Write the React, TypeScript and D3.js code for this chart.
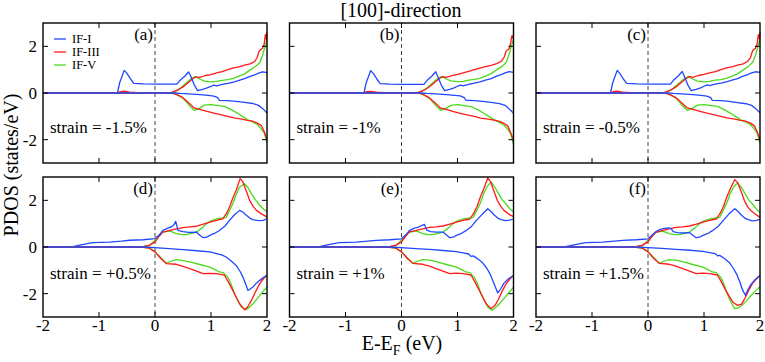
import React from 'react';
import * as d3 from 'd3';

// PDOS curves as [E - E_F (eV), states/eV]
const aBlueUp = [[-2,0],[-0.67,0],[-0.63,0.45],[-0.55,0.97],[-0.5,0.84],[-0.44,0.62],[-0.38,0.41],[-0.2,0.39],[0,0.38],[0.2,0.38],[0.39,0.38],[0.45,0.55],[0.53,0.72],[0.6,0.9],[0.64,0.72],[0.7,0.35],[0.76,0.1],[0.85,0.16],[0.93,0.22],[1.0,0.28],[1.05,0.34],[1.1,0.31],[1.2,0.37],[1.3,0.41],[1.4,0.47],[1.5,0.54],[1.6,0.62],[1.7,0.71],[1.78,0.78],[1.85,0.85],[1.92,0.91],[2.0,0.87]];
const aRedUp = [[-2,0],[-0.68,0],[-0.62,0.06],[-0.55,0.08],[-0.45,0.04],[-0.3,0.02],[0.2,0.01],[0.3,0.03],[0.4,0.12],[0.5,0.26],[0.6,0.46],[0.68,0.62],[0.73,0.69],[0.8,0.67],[0.9,0.75],[1.0,0.79],[1.1,0.86],[1.2,0.92],[1.3,1.0],[1.4,1.08],[1.5,1.12],[1.6,1.19],[1.7,1.25],[1.78,1.35],[1.82,1.5],[1.86,1.8],[1.92,1.92],[1.95,2.1],[1.97,2.5],[1.99,2.3],[2.0,2.6]];
const aGreenUp = [[-2,0],[0.25,0],[0.35,0.05],[0.45,0.2],[0.55,0.42],[0.65,0.62],[0.72,0.7],[0.8,0.6],[0.88,0.51],[1.0,0.48],[1.1,0.5],[1.2,0.54],[1.3,0.57],[1.4,0.63],[1.5,0.72],[1.6,0.82],[1.7,0.99],[1.8,1.15],[1.87,1.3],[1.92,1.6],[1.96,1.95],[2.0,2.3]];
const aBlueDown = [[-2,0],[0.35,0],[0.45,-0.02],[0.6,-0.04],[0.8,-0.07],[0.95,-0.1],[1.05,-0.13],[1.12,-0.2],[1.15,-0.32],[1.3,-0.33],[1.45,-0.36],[1.6,-0.4],[1.75,-0.45],[1.85,-0.53],[1.92,-0.66],[2.0,-0.86]];
const aRedDown = [[-2,0],[0.3,0],[0.4,-0.08],[0.5,-0.2],[0.6,-0.42],[0.7,-0.64],[0.8,-0.7],[0.93,-0.79],[1.05,-0.86],[1.17,-0.93],[1.3,-1.0],[1.41,-1.07],[1.55,-1.12],[1.65,-1.17],[1.75,-1.21],[1.83,-1.29],[1.9,-1.4],[1.95,-1.65],[2.0,-2.0]];
const aGreenDown = [[-2,0],[0.3,0],[0.4,-0.08],[0.5,-0.22],[0.6,-0.5],[0.7,-0.74],[0.78,-0.68],[0.88,-0.52],[1.0,-0.5],[1.1,-0.53],[1.24,-0.57],[1.35,-0.7],[1.47,-0.86],[1.56,-1.0],[1.65,-1.14],[1.75,-1.25],[1.83,-1.36],[1.9,-1.55],[1.95,-1.71],[2.0,-2.14]];

const bBlueUp = [[-2,0],[-0.67,0],[-0.63,0.44],[-0.55,0.96],[-0.5,0.83],[-0.44,0.6],[-0.38,0.4],[-0.2,0.38],[0,0.37],[0.2,0.37],[0.4,0.37],[0.46,0.55],[0.54,0.72],[0.61,0.91],[0.65,0.7],[0.71,0.34],[0.77,0.1],[0.86,0.16],[0.94,0.22],[1.0,0.29],[1.06,0.34],[1.1,0.31],[1.2,0.37],[1.3,0.42],[1.4,0.48],[1.5,0.55],[1.6,0.62],[1.7,0.72],[1.78,0.79],[1.85,0.86],[1.92,0.92],[2.0,0.88]];
const bRedUp = [[-2,0],[-0.68,0],[-0.62,0.06],[-0.55,0.07],[-0.45,0.04],[-0.3,0.02],[0.2,0.01],[0.3,0.03],[0.4,0.12],[0.5,0.27],[0.6,0.47],[0.68,0.62],[0.74,0.7],[0.8,0.67],[0.9,0.74],[1.0,0.8],[1.1,0.86],[1.2,0.93],[1.3,1.0],[1.4,1.07],[1.5,1.13],[1.6,1.18],[1.7,1.26],[1.78,1.36],[1.83,1.52],[1.87,1.8],[1.92,1.9],[1.95,2.15],[1.97,2.45],[1.99,2.35],[2.0,2.5]];
const bGreenUp = [[-2,0],[0.25,0],[0.35,0.05],[0.45,0.2],[0.55,0.42],[0.65,0.63],[0.72,0.71],[0.8,0.6],[0.88,0.52],[1.0,0.49],[1.1,0.5],[1.2,0.55],[1.3,0.58],[1.4,0.63],[1.5,0.72],[1.6,0.83],[1.7,1.0],[1.8,1.14],[1.87,1.32],[1.92,1.65],[1.96,2.0],[2.0,2.3]];
const bBlueDown = [[-2,0],[0.35,0],[0.45,-0.02],[0.6,-0.04],[0.8,-0.07],[0.95,-0.1],[1.05,-0.12],[1.12,-0.2],[1.15,-0.31],[1.3,-0.33],[1.45,-0.36],[1.6,-0.4],[1.75,-0.46],[1.85,-0.53],[1.92,-0.67],[2.0,-0.87]];
const bRedDown = [[-2,0],[0.3,0],[0.4,-0.08],[0.5,-0.21],[0.6,-0.43],[0.7,-0.65],[0.8,-0.7],[0.93,-0.8],[1.05,-0.87],[1.17,-0.94],[1.3,-1.0],[1.41,-1.08],[1.55,-1.12],[1.65,-1.16],[1.75,-1.22],[1.83,-1.3],[1.9,-1.42],[1.95,-1.7],[2.0,-2.0]];
const bGreenDown = [[-2,0],[0.3,0],[0.4,-0.08],[0.5,-0.23],[0.6,-0.51],[0.7,-0.74],[0.78,-0.68],[0.88,-0.53],[1.0,-0.5],[1.1,-0.53],[1.24,-0.58],[1.35,-0.7],[1.47,-0.87],[1.56,-1.0],[1.65,-1.14],[1.75,-1.26],[1.83,-1.37],[1.9,-1.56],[1.95,-1.75],[2.0,-2.2]];

const cBlueUp = [[-2,0],[-0.67,0],[-0.63,0.44],[-0.55,0.97],[-0.5,0.83],[-0.44,0.6],[-0.38,0.41],[-0.2,0.39],[0,0.38],[0.2,0.38],[0.4,0.38],[0.46,0.56],[0.54,0.73],[0.61,0.92],[0.65,0.72],[0.71,0.35],[0.77,0.1],[0.86,0.16],[0.94,0.22],[1.0,0.29],[1.06,0.35],[1.1,0.32],[1.2,0.38],[1.3,0.42],[1.4,0.48],[1.5,0.55],[1.6,0.62],[1.7,0.72],[1.78,0.79],[1.85,0.86],[1.92,0.91],[2.0,0.88]];
const cRedUp = [[-2,0],[-0.68,0],[-0.62,0.06],[-0.55,0.08],[-0.45,0.04],[-0.3,0.02],[0.2,0.01],[0.3,0.03],[0.4,0.12],[0.5,0.26],[0.6,0.46],[0.68,0.62],[0.74,0.7],[0.8,0.67],[0.9,0.75],[1.0,0.8],[1.1,0.86],[1.2,0.92],[1.3,1.0],[1.4,1.08],[1.5,1.12],[1.6,1.19],[1.7,1.25],[1.78,1.36],[1.83,1.52],[1.87,1.82],[1.92,1.92],[1.95,2.12],[1.97,2.5],[1.99,2.32],[2.0,2.6]];
const cGreenUp = [[-2,0],[0.25,0],[0.35,0.05],[0.45,0.2],[0.55,0.42],[0.65,0.62],[0.72,0.7],[0.8,0.6],[0.88,0.51],[1.0,0.48],[1.1,0.5],[1.2,0.55],[1.3,0.57],[1.4,0.63],[1.5,0.72],[1.6,0.82],[1.7,0.99],[1.8,1.15],[1.87,1.32],[1.92,1.62],[1.96,1.98],[2.0,2.3]];
const cBlueDown = [[-2,0],[0.35,0],[0.45,-0.02],[0.6,-0.04],[0.8,-0.07],[0.95,-0.1],[1.05,-0.13],[1.12,-0.2],[1.15,-0.32],[1.3,-0.33],[1.45,-0.36],[1.6,-0.41],[1.75,-0.46],[1.85,-0.53],[1.92,-0.66],[2.0,-0.85]];
const cRedDown = [[-2,0],[0.3,0],[0.4,-0.08],[0.5,-0.2],[0.6,-0.42],[0.7,-0.64],[0.8,-0.7],[0.93,-0.79],[1.05,-0.86],[1.17,-0.93],[1.3,-1.0],[1.41,-1.07],[1.55,-1.12],[1.65,-1.17],[1.75,-1.21],[1.83,-1.29],[1.9,-1.41],[1.95,-1.66],[2.0,-2.0]];
const cGreenDown = [[-2,0],[0.3,0],[0.4,-0.08],[0.5,-0.22],[0.6,-0.5],[0.7,-0.74],[0.78,-0.68],[0.88,-0.52],[1.0,-0.5],[1.1,-0.53],[1.24,-0.57],[1.35,-0.7],[1.47,-0.86],[1.56,-1.0],[1.65,-1.14],[1.75,-1.25],[1.83,-1.36],[1.9,-1.55],[1.95,-1.72],[2.0,-2.16]];

const dBlueUp = [[-2,0],[-1.49,0],[-1.3,0.1],[-1.11,0.19],[-0.95,0.2],[-0.81,0.21],[-0.6,0.25],[-0.45,0.29],[-0.21,0.31],[0,0.36],[0.07,0.5],[0.14,0.71],[0.22,0.8],[0.29,0.86],[0.34,0.95],[0.37,1.1],[0.41,0.71],[0.5,0.66],[0.6,0.63],[0.74,0.64],[0.8,0.5],[0.86,0.4],[0.92,0.42],[0.98,0.5],[1.06,0.58],[1.15,0.71],[1.25,0.9],[1.33,1.14],[1.42,1.38],[1.51,1.57],[1.57,1.5],[1.63,1.36],[1.7,1.23],[1.75,1.17],[1.85,1.13],[1.93,1.14],[2.0,1.21]];
const dRedUp = [[-2,0],[-0.3,0],[-0.2,0.03],[-0.1,0.08],[0,0.21],[0.07,0.45],[0.14,0.64],[0.25,0.7],[0.32,0.74],[0.5,0.83],[0.62,0.86],[0.74,0.89],[0.85,0.97],[0.98,1.07],[1.1,1.14],[1.21,1.21],[1.28,1.45],[1.33,1.71],[1.39,2.1],[1.45,2.43],[1.52,2.93],[1.57,2.79],[1.63,2.4],[1.69,2.0],[1.75,1.75],[1.81,1.57],[1.9,1.42],[2.0,1.29]];
const dGreenUp = [[-2,0],[-0.25,0],[-0.1,0.05],[0,0.29],[0.07,0.48],[0.14,0.64],[0.26,0.69],[0.38,0.57],[0.48,0.53],[0.56,0.53],[0.66,0.58],[0.74,0.64],[0.84,0.82],[0.92,1.0],[1.0,1.12],[1.1,1.21],[1.2,1.24],[1.27,1.26],[1.33,1.55],[1.39,1.86],[1.45,2.25],[1.51,2.57],[1.6,2.71],[1.66,2.55],[1.72,2.29],[1.8,2.0],[1.87,1.79],[1.94,1.62],[2.0,1.5]];
const dBlueDown = [[-2,0],[-0.2,0],[0,-0.03],[0.25,-0.07],[0.5,-0.11],[0.75,-0.16],[0.98,-0.21],[1.1,-0.28],[1.2,-0.35],[1.27,-0.43],[1.36,-0.6],[1.45,-0.79],[1.52,-1.05],[1.57,-1.29],[1.62,-1.6],[1.66,-1.86],[1.7,-1.8],[1.75,-1.71],[1.81,-1.55],[1.87,-1.43],[1.94,-1.3],[2.0,-1.21]];
const dRedDown = [[-2,0],[-0.25,0],[-0.1,-0.05],[0,-0.21],[0.1,-0.48],[0.2,-0.71],[0.38,-0.74],[0.5,-0.83],[0.62,-0.93],[0.74,-1.03],[0.86,-1.14],[0.98,-1.13],[1.1,-1.14],[1.24,-1.21],[1.3,-1.45],[1.39,-1.86],[1.45,-2.15],[1.51,-2.43],[1.6,-2.69],[1.66,-2.55],[1.72,-2.29],[1.8,-1.9],[1.87,-1.57],[1.94,-1.35],[2.0,-1.21]];
const dGreenDown = [[-2,0],[-0.25,0],[-0.1,-0.05],[0,-0.2],[0.1,-0.45],[0.2,-0.69],[0.3,-0.6],[0.38,-0.54],[0.5,-0.58],[0.62,-0.64],[0.8,-0.75],[0.98,-0.86],[1.08,-0.98],[1.15,-1.07],[1.22,-1.1],[1.3,-1.29],[1.36,-1.6],[1.42,-2.0],[1.48,-2.3],[1.54,-2.57],[1.63,-2.69],[1.7,-2.55],[1.75,-2.43],[1.83,-2.2],[1.9,-2.0],[2.0,-1.71]];

const eBlueUp = [[-2,0],[-1.49,0],[-1.3,0.1],[-1.11,0.19],[-0.95,0.2],[-0.81,0.21],[-0.6,0.25],[-0.45,0.28],[-0.21,0.31],[0,0.35],[0.07,0.5],[0.14,0.7],[0.22,0.8],[0.3,0.85],[0.36,0.92],[0.41,0.97],[0.45,0.72],[0.52,0.66],[0.62,0.64],[0.74,0.64],[0.8,0.52],[0.86,0.4],[0.92,0.42],[0.98,0.5],[1.06,0.57],[1.15,0.7],[1.25,0.88],[1.33,1.12],[1.44,1.4],[1.54,1.64],[1.6,1.52],[1.66,1.36],[1.72,1.24],[1.78,1.17],[1.86,1.13],[1.93,1.15],[2.0,1.2]];
const eRedUp = [[-2,0],[-0.3,0],[-0.2,0.03],[-0.1,0.08],[0,0.22],[0.07,0.45],[0.14,0.65],[0.25,0.7],[0.32,0.74],[0.5,0.84],[0.62,0.86],[0.74,0.9],[0.85,0.97],[0.98,1.07],[1.1,1.14],[1.22,1.2],[1.29,1.45],[1.35,1.75],[1.41,2.15],[1.47,2.5],[1.54,2.96],[1.59,2.8],[1.65,2.4],[1.71,2.0],[1.77,1.75],[1.83,1.57],[1.92,1.4],[2.0,1.3]];
const eGreenUp = [[-2,0],[-0.25,0],[-0.1,0.05],[0,0.29],[0.07,0.48],[0.14,0.63],[0.26,0.69],[0.38,0.57],[0.48,0.53],[0.56,0.53],[0.66,0.58],[0.74,0.64],[0.84,0.82],[0.92,1.0],[1.0,1.12],[1.1,1.2],[1.2,1.24],[1.28,1.27],[1.34,1.55],[1.41,1.9],[1.47,2.3],[1.53,2.6],[1.6,2.79],[1.67,2.55],[1.73,2.3],[1.8,2.02],[1.88,1.8],[1.94,1.63],[2.0,1.5]];
const eBlueDown = [[-2,0],[-0.2,0],[0,-0.03],[0.25,-0.07],[0.5,-0.1],[0.75,-0.15],[0.98,-0.2],[1.1,-0.25],[1.2,-0.3],[1.24,-0.4],[1.28,-0.38],[1.36,-0.5],[1.45,-0.68],[1.52,-0.9],[1.58,-1.15],[1.64,-1.5],[1.69,-1.8],[1.72,-1.97],[1.77,-1.8],[1.83,-1.55],[1.9,-1.38],[2.0,-1.22]];
const eRedDown = [[-2,0],[-0.25,0],[-0.1,-0.05],[0,-0.21],[0.1,-0.48],[0.2,-0.7],[0.38,-0.74],[0.5,-0.82],[0.62,-0.93],[0.74,-1.03],[0.86,-1.14],[0.98,-1.12],[1.1,-1.14],[1.24,-1.2],[1.3,-1.45],[1.39,-1.86],[1.46,-2.2],[1.52,-2.45],[1.6,-2.64],[1.67,-2.5],[1.73,-2.25],[1.8,-1.88],[1.87,-1.57],[1.94,-1.36],[2.0,-1.22]];
const eGreenDown = [[-2,0],[-0.25,0],[-0.1,-0.05],[0,-0.2],[0.1,-0.45],[0.2,-0.69],[0.3,-0.6],[0.38,-0.54],[0.5,-0.56],[0.62,-0.63],[0.8,-0.75],[0.98,-0.86],[1.08,-0.98],[1.15,-1.07],[1.22,-1.1],[1.3,-1.3],[1.36,-1.6],[1.42,-2.0],[1.49,-2.35],[1.55,-2.6],[1.62,-2.71],[1.7,-2.55],[1.76,-2.4],[1.84,-2.18],[1.92,-1.95],[2.0,-1.72]];

const fBlueUp = [[-2,0],[-1.49,0],[-1.3,0.1],[-1.11,0.19],[-0.95,0.2],[-0.81,0.21],[-0.6,0.25],[-0.45,0.28],[-0.21,0.31],[0,0.35],[0.07,0.5],[0.14,0.66],[0.22,0.76],[0.3,0.8],[0.36,0.82],[0.41,0.8],[0.45,0.66],[0.52,0.62],[0.62,0.6],[0.74,0.62],[0.8,0.5],[0.86,0.4],[0.92,0.42],[0.98,0.5],[1.06,0.57],[1.15,0.7],[1.25,0.88],[1.33,1.1],[1.44,1.4],[1.55,1.64],[1.61,1.52],[1.67,1.36],[1.73,1.24],[1.79,1.17],[1.86,1.12],[1.93,1.14],[2.0,1.18]];
const fRedUp = [[-2,0],[-0.3,0],[-0.2,0.03],[-0.1,0.08],[0,0.22],[0.07,0.45],[0.14,0.63],[0.25,0.7],[0.32,0.74],[0.5,0.84],[0.62,0.86],[0.74,0.9],[0.85,0.97],[0.98,1.07],[1.1,1.14],[1.22,1.2],[1.29,1.45],[1.35,1.75],[1.41,2.15],[1.47,2.5],[1.55,2.89],[1.6,2.76],[1.66,2.4],[1.72,2.0],[1.78,1.72],[1.84,1.55],[1.92,1.4],[2.0,1.27]];
const fGreenUp = [[-2,0],[-0.25,0],[-0.1,0.05],[0,0.28],[0.07,0.48],[0.14,0.63],[0.26,0.68],[0.38,0.57],[0.48,0.53],[0.56,0.53],[0.66,0.58],[0.74,0.64],[0.84,0.82],[0.92,1.0],[1.0,1.12],[1.1,1.2],[1.2,1.24],[1.28,1.27],[1.34,1.55],[1.41,1.9],[1.47,2.3],[1.53,2.58],[1.6,2.74],[1.67,2.55],[1.73,2.3],[1.8,2.02],[1.88,1.8],[1.94,1.62],[2.0,1.48]];
const fBlueDown = [[-2,0],[-0.2,0],[0,-0.03],[0.25,-0.06],[0.5,-0.1],[0.75,-0.14],[0.98,-0.19],[1.1,-0.24],[1.2,-0.28],[1.24,-0.38],[1.28,-0.36],[1.36,-0.48],[1.45,-0.66],[1.52,-0.9],[1.58,-1.15],[1.64,-1.5],[1.69,-1.85],[1.74,-2.07],[1.78,-1.85],[1.84,-1.6],[1.91,-1.4],[2.0,-1.22]];
const fRedDown = [[-2,0],[-0.25,0],[-0.1,-0.05],[0,-0.21],[0.1,-0.48],[0.2,-0.7],[0.38,-0.74],[0.5,-0.82],[0.62,-0.93],[0.74,-1.03],[0.86,-1.14],[0.98,-1.12],[1.1,-1.14],[1.24,-1.2],[1.3,-1.45],[1.39,-1.86],[1.46,-2.15],[1.52,-2.38],[1.6,-2.5],[1.67,-2.45],[1.73,-2.2],[1.8,-1.85],[1.87,-1.55],[1.94,-1.36],[2.0,-1.22]];
const fGreenDown = [[-2,0],[-0.25,0],[-0.1,-0.05],[0,-0.2],[0.1,-0.45],[0.2,-0.69],[0.3,-0.6],[0.38,-0.54],[0.5,-0.56],[0.62,-0.63],[0.8,-0.75],[0.98,-0.86],[1.08,-0.98],[1.15,-1.07],[1.22,-1.1],[1.3,-1.3],[1.36,-1.62],[1.42,-2.05],[1.49,-2.4],[1.55,-2.64],[1.62,-2.6],[1.7,-2.45],[1.76,-2.3],[1.84,-2.08],[1.92,-1.88],[2.0,-1.7]];

const seriesNames = ['IF-I', 'IF-III', 'IF-V'];
const seriesColors = ['#1f48ff', '#ff1a1a', '#4cd91c'];
const panelLabels = ['(a)', '(b)', '(c)', '(d)', '(e)', '(f)'];
const strainLabels = ['strain = -1.5%', 'strain = -1%', 'strain = -0.5%', 'strain = +0.5%', 'strain = +1%', 'strain = +1.5%'];
const panelCurves = [
  [aBlueUp, aRedUp, aGreenUp, aBlueDown, aRedDown, aGreenDown],
  [bBlueUp, bRedUp, bGreenUp, bBlueDown, bRedDown, bGreenDown],
  [cBlueUp, cRedUp, cGreenUp, cBlueDown, cRedDown, cGreenDown],
  [dBlueUp, dRedUp, dGreenUp, dBlueDown, dRedDown, dGreenDown],
  [eBlueUp, eRedUp, eGreenUp, eBlueDown, eRedDown, eGreenDown],
  [fBlueUp, fRedUp, fGreenUp, fBlueDown, fRedDown, fGreenDown],
];
const xTickValues = [-2, -1, 0, 1, 2];
const yTickValues = [-2, 0, 2];

const W = 765;
const H = 362;
const colLefts = [43, 289.5, 536];
const rowTops = [23, 177];
const pw = 224;
const ph = 140;
const FONT = "'Liberation Serif', 'Times New Roman', Times, serif";
const txt = (size: number) => ({ fontFamily: FONT, fontSize: size + 'px' });

function Panel({ idx }: { idx: number }) {
  const col = idx % 3;
  const row = Math.floor(idx / 3);
  const x0 = colLefts[col];
  const y0 = rowTops[row];
  const x = d3.scaleLinear().domain([-2, 2]).range([x0, x0 + pw]);
  const y = d3.scaleLinear().domain([-3, 3]).range([y0 + ph, y0]);
  const line = d3.line<number[]>().x(d => x(d[0])).y(d => y(d[1]));
  const curves = panelCurves[idx];
  const tick = 5;
  const innerX = xTickValues.slice(1, -1);
  const order = [2, 1, 0, 5, 4, 3];
  return (
    <g>
      <line x1={x(0)} x2={x(0)} y1={y0} y2={y0 + ph} stroke="#444" strokeWidth={1} strokeDasharray="4,3" />
      {order.map(k => (
        <path key={k} d={line(curves[k] as number[][]) || ''} fill="none" stroke={seriesColors[k % 3]} strokeWidth={1.3} strokeLinejoin="round" />
      ))}
      <rect x={x0} y={y0} width={pw} height={ph} fill="none" stroke="#000" strokeWidth={1.4} />
      {innerX.map(t => (
        <g key={'xt' + t}>
          <line x1={x(t)} x2={x(t)} y1={y0 + ph} y2={y0 + ph - tick} stroke="#000" strokeWidth={1} />
          <line x1={x(t)} x2={x(t)} y1={y0} y2={y0 + tick} stroke="#000" strokeWidth={1} />
        </g>
      ))}
      {yTickValues.map(t => (
        <g key={'yt' + t}>
          <line x1={x0} x2={x0 + tick} y1={y(t)} y2={y(t)} stroke="#000" strokeWidth={1} />
          <line x1={x0 + pw} x2={x0 + pw - tick} y1={y(t)} y2={y(t)} stroke="#000" strokeWidth={1} />
        </g>
      ))}
      {col === 0 && yTickValues.map(t => (
        <text key={'yl' + t} x={x0 - 6} y={y(t) + 6} textAnchor="end" style={txt(17)}>{t}</text>
      ))}
      {row === 1 && xTickValues.map(t => (
        <text key={'xl' + t} x={x(t)} y={y0 + ph + 14} textAnchor="middle" style={txt(17)}>{t}</text>
      ))}
      <text x={x(0) - 2} y={y0 + 17} textAnchor="end" style={txt(17)}>{panelLabels[idx]}</text>
      <text x={x0 + 7} y={row === 0 ? y0 + 110 : y0 + 102} style={txt(17)}>{strainLabels[idx]}</text>
      {idx === 0 && seriesNames.map((n, i) => (
        <g key={n}>
          <line x1={x0 + 11} x2={x0 + 23} y1={y0 + 16 + i * 13} y2={y0 + 16 + i * 13} stroke={seriesColors[i]} strokeWidth={1.3} />
          <text x={x0 + 29} y={y0 + 20 + i * 13} style={txt(12.5)}>{n}</text>
        </g>
      ))}
    </g>
  );
}

export default function App() {
  return (
    <svg width={W} height={H} style={{ position: 'absolute', left: 0, top: 0, background: '#fff' }}>
      <rect width={W} height={H} fill="#fff" />
      <text x={401} y={17} textAnchor="middle" style={txt(20)}>[100]-direction</text>
      {panelLabels.map((_, i) => <Panel key={i} idx={i} />)}
      <text transform="translate(17.5,165) rotate(-90)" textAnchor="middle" style={txt(20)}>PDOS (states/eV)</text>
      <text x={402} y={350} textAnchor="middle" style={txt(20)}>
        E-E<tspan style={{ fontSize: '14px' }} dy={5}>F</tspan><tspan dy={-5}> (eV)</tspan>
      </text>
    </svg>
  );
}
